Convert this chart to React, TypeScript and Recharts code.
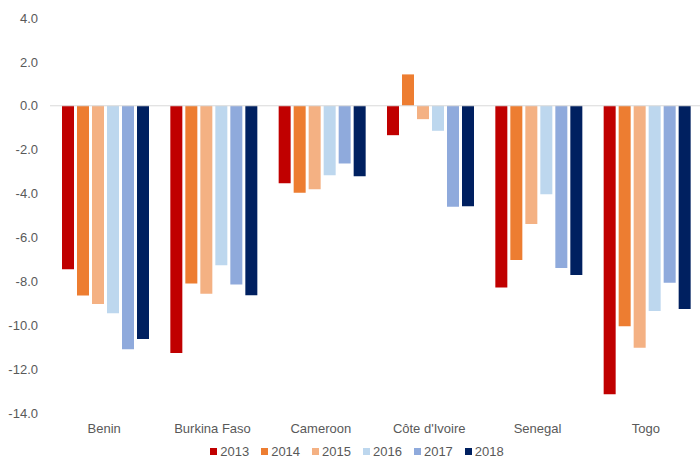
import React from 'react';
import { BarChart, Bar, XAxis, YAxis, ReferenceLine, Legend } from 'recharts';

const countries = ['Benin', 'Burkina Faso', 'Cameroon', "Côte d'Ivoire", 'Senegal', 'Togo'];
const years = ['2013', '2014', '2015', '2016', '2017', '2018'];
const colors = ['#C00000', '#ED7D31', '#F4B183', '#BDD7EE', '#8FAADC', '#002060'];

const v2013 = [-7.45, -11.27, -3.53, -1.34, -8.28, -13.14];
const v2014 = [-8.64, -8.1, -3.96, 1.43, -7.03, -10.05];
const v2015 = [-9.03, -8.57, -3.8, -0.61, -5.39, -11.03];
const v2016 = [-9.46, -7.27, -3.17, -1.14, -4.03, -9.35];
const v2017 = [-11.1, -8.14, -2.63, -4.6, -7.39, -8.07];
const v2018 = [-10.63, -8.63, -3.21, -4.58, -7.71, -9.26];

const yTicks = [4, 2, 0, -2, -4, -6, -8, -10, -12, -14];

const series = [v2013, v2014, v2015, v2016, v2017, v2018];
const data = countries.map((c, i) => {
  const row: Record<string, string | number> = { country: c };
  years.forEach((y, j) => {
    row[y] = series[j][i];
  });
  return row;
});

const FONT = '"Liberation Sans", Arial, sans-serif';
const TEXT = '#595959';

const LegendContent = () => (
  <div style={{ display: 'flex', justifyContent: 'center', fontFamily: FONT, fontSize: 13, color: TEXT, paddingLeft: 26, paddingTop: 8 }}>
    {years.map((y, i) => (
      <div key={y} style={{ display: 'flex', alignItems: 'center', marginRight: 12 }}>
        <span style={{ display: 'inline-block', width: 7, height: 7, background: colors[i], marginRight: 3 }} />
        <span>{y}</span>
      </div>
    ))}
  </div>
);

export default function App() {
  return (
    <div style={{ position: 'absolute', left: 0, top: 0, background: '#fff' }}>
      <BarChart
        width={700}
        height={460}
        data={data}
        margin={{ top: 18, right: 0, bottom: 0, left: 0 }}
        barGap={3}
        barCategoryGap={12}
      >
        <XAxis
          dataKey="country"
          axisLine={false}
          tickLine={false}
          tickSize={6}
          tickMargin={5}
          height={23}
          interval={0}
          tick={{ fill: TEXT, fontSize: 13, fontFamily: FONT }}
        />
        <YAxis
          type="number"
          domain={[-14, 4]}
          ticks={yTicks}
          interval={0}
          width={50}
          axisLine={false}
          tickLine={false}
          tickSize={6}
          tickMargin={6}
          tickFormatter={(v: number) => v.toFixed(1)}
          tick={{ fill: TEXT, fontSize: 13, fontFamily: FONT }}
        />
        <ReferenceLine y={0} stroke="#D9D9D9" strokeWidth={1} />
        {years.map((y, i) => (
          <Bar key={y} dataKey={y} fill={colors[i]} isAnimationActive={false} />
        ))}
        <Legend verticalAlign="bottom" height={24} content={<LegendContent />} />
      </BarChart>
    </div>
  );
}
